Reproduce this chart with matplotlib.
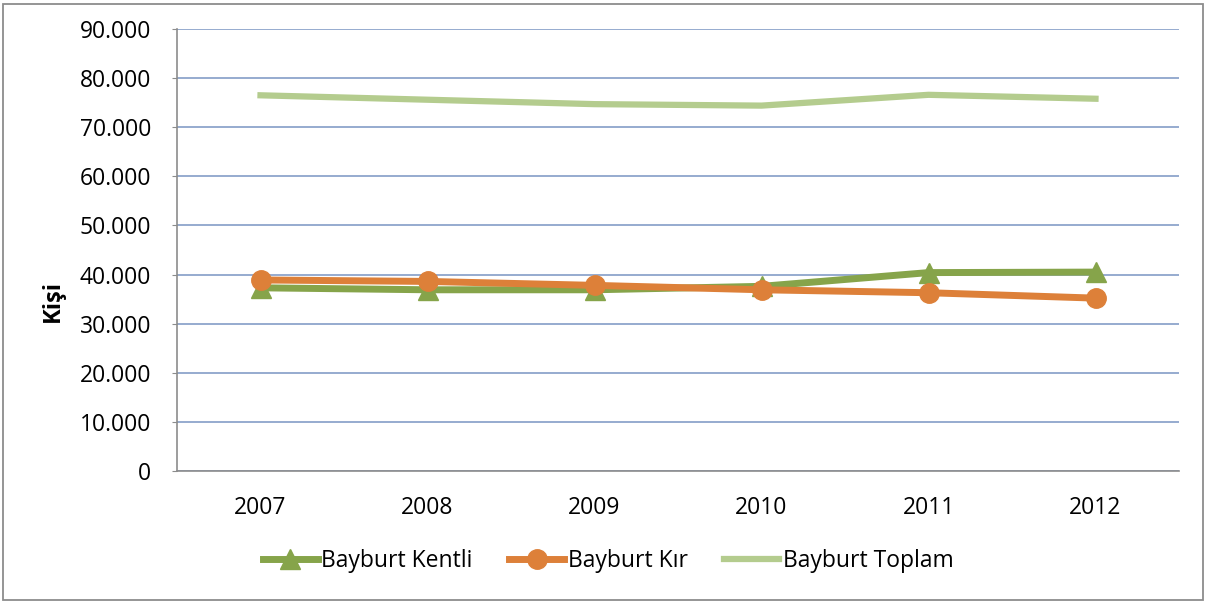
import matplotlib
matplotlib.use("Agg")
import matplotlib.pyplot as plt
from matplotlib.patches import Rectangle
from matplotlib.ticker import FuncFormatter

years = ["2007", "2008", "2009", "2010", "2011", "2012"]
kentli = [37300, 36900, 36900, 37600, 40400, 40500]
kir = [38900, 38600, 37800, 36900, 36300, 35200]
toplam = [76500, 75600, 74700, 74400, 76600, 75800]
yticks = [0, 10000, 20000, 30000, 40000, 50000, 60000, 70000, 80000, 90000]

plt.rcParams['font.family'] = ['Open Sans', 'DejaVu Sans']

fig = plt.figure(figsize=(12.07, 6.03), dpi=100)
ax = fig.add_axes([177/1207, 1 - 471/603, (1179-177)/1207, (471-29)/603])

x = list(range(len(years)))
ax.plot(x, kentli, color="#86A44A", lw=5, marker="^", markersize=15, label="Bayburt Kentli", zorder=3)
ax.plot(x, kir, color="#DD8039", lw=5, marker="o", markersize=14, label="Bayburt Kır", zorder=4)
ax.plot(x, toplam, color="#B4CC8E", lw=4.5, label="Bayburt Toplam", zorder=3)

ax.set_xlim(-0.5, len(years) - 0.5)
ax.set_ylim(0, 90000)
ax.set_yticks(yticks)
ax.yaxis.set_major_formatter(FuncFormatter(lambda v, p: "0" if v == 0 else f"{int(v):,}".replace(",", ".")))
ax.set_xticks(x)
ax.set_xticklabels(years)
ax.grid(axis="y", color="#8EA5CB", lw=1.3)
ax.set_axisbelow(True)
for s in ["top", "right"]:
    ax.spines[s].set_visible(False)
for s in ["left", "bottom"]:
    ax.spines[s].set_color("#8C8C8C")
    ax.spines[s].set_linewidth(1.2)
ax.tick_params(axis="y", length=3.6, color="#8C8C8C", labelsize=16.5, pad=15)
ax.tick_params(axis="x", length=0, labelsize=16.5, pad=18)
ax.set_ylabel("Kişi", fontsize=17, fontweight="bold")
ax.yaxis.set_label_coords(53/1207, 0.5, transform=fig.transFigure)
ax.yaxis.label.set_verticalalignment("center")

fig.legend(loc="center", bbox_to_anchor=(608/1207, 1 - 561/603), ncol=3, frameon=False,
           fontsize=16.5, handlelength=2.4, handletextpad=0.15, columnspacing=1.6)

fig.patches.append(Rectangle((3/1207, 3/603), 1200/1207, 596/603, transform=fig.transFigure,
                             fill=False, edgecolor="#8C8C8C", lw=1.3))

fig.savefig("out.png", dpi=100)
